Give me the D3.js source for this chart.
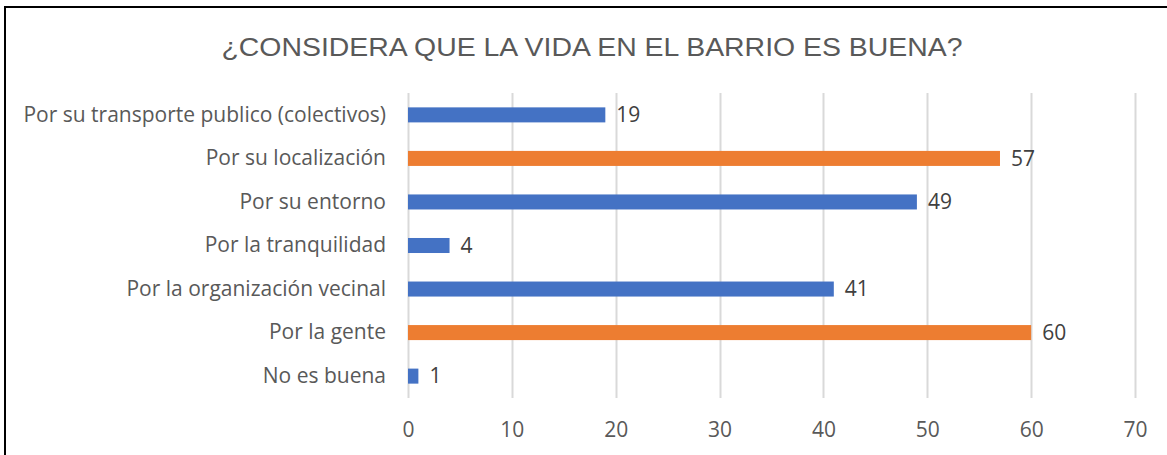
<!DOCTYPE html>
<html>
<head>
<meta charset="utf-8">
<script src="https://cdn.jsdelivr.net/npm/d3@7"></script>
<style>
    body { margin: 0; background: #fff; }
    svg { display: block; }
</style>
</head>
<body>
<div id="chart"></div>
<script>
// data, top to bottom as in the picture
var categories = [
    "Por su transporte publico (colectivos)",
    "Por su localización",
    "Por su entorno",
    "Por la tranquilidad",
    "Por la organización vecinal",
    "Por la gente",
    "No es buena"
];
var values = [19, 57, 49, 4, 41, 60, 1];
var highlighted = [false, true, false, false, false, true, false];
var xTicks = [0, 10, 20, 30, 40, 50, 60, 70];
var title = "¿CONSIDERA QUE LA VIDA EN EL BARRIO ES BUENA?";

/* ****** Sizes ****** */
var width = 1167;
var height = 455;
var margin = { top: 93, right: 32, bottom: 57, left: 408 };
var innerW = width - margin.left - margin.right;
var innerH = height - margin.top - margin.bottom;
var labelFont = "'Open Sans', 'Noto Sans', sans-serif";

var svg = d3.select("#chart")
    .append("svg")
    .attr("width", width)
    .attr("height", height);

// chart frame (runs off the right and bottom of the picture)
svg.append("rect")
    .attr("x", 5)
    .attr("y", 7)
    .attr("width", 1200)
    .attr("height", 500)
    .attr("fill", "none")
    .attr("stroke", "#000")
    .attr("stroke-width", 2);

svg.append("text")
    .attr("x", 592)
    .attr("y", 56)
    .attr("text-anchor", "middle")
    .attr("font-family", "'Liberation Sans', Arial, sans-serif")
    .attr("font-size", 25)
    .attr("textLength", 741)
    .attr("lengthAdjust", "spacingAndGlyphs")
    .attr("fill", "#595959")
    .text(title);

var g = svg.append("g")
    .attr("transform", "translate(" + margin.left + "," + margin.top + ")");

/* ****** Scales ****** */
var x = d3.scaleLinear().domain([0, 70]).range([0, innerW]);
var y = d3.scaleBand().domain(categories).range([0, innerH]).paddingInner(0.655).paddingOuter(0.33);

/* ****** Grid ****** */
g.selectAll(".grid")
    .data(xTicks)
    .enter().append("line")
    .attr("class", "grid")
    .attr("x1", function(d) { return Math.round(x(d)) + 0.5; })
    .attr("x2", function(d) { return Math.round(x(d)) + 0.5; })
    .attr("y1", 0)
    .attr("y2", innerH)
    .attr("stroke", "#d9d9d9")
    .attr("stroke-width", 2);

/* ****** Axes ****** */
var xAxis = g.append("g")
    .attr("transform", "translate(0," + innerH + ")")
    .call(d3.axisBottom(x).tickValues(xTicks).tickSize(0).tickPadding(24));
xAxis.select(".domain").remove();
xAxis.selectAll("text")
    .attr("font-family", labelFont)
    .attr("font-size", 21)
    .attr("fill", "#595959");

var yAxis = g.append("g")
    .call(d3.axisLeft(y).tickSize(0).tickPadding(22));
yAxis.select(".domain").remove();
yAxis.selectAll("text")
    .attr("font-family", labelFont)
    .attr("font-size", 21)
    .attr("fill", "#595959");

/* ****** Bars ****** */
var rows = categories.map(function(c, i) {
    return { name: c, value: values[i], hi: highlighted[i] };
});

g.selectAll(".bar")
    .data(rows)
    .enter().append("rect")
    .attr("class", "bar")
    .attr("x", x(0))
    .attr("y", function(d) { return y(d.name); })
    .attr("width", function(d) { return x(d.value) - x(0); })
    .attr("height", y.bandwidth())
    .attr("fill", function(d) { return d.hi ? "#ED7D31" : "#4472C4"; });

g.selectAll(".lbl")
    .data(rows)
    .enter().append("text")
    .attr("class", "lbl")
    .attr("x", function(d) { return x(d.value) + 11; })
    .attr("y", function(d) { return y(d.name) + y.bandwidth() / 2; })
    .attr("dy", "0.35em")
    .attr("font-family", labelFont)
    .attr("font-size", 21)
    .attr("fill", "#404040")
    .text(function(d) { return d.value; });
</script>
</body>
</html>
